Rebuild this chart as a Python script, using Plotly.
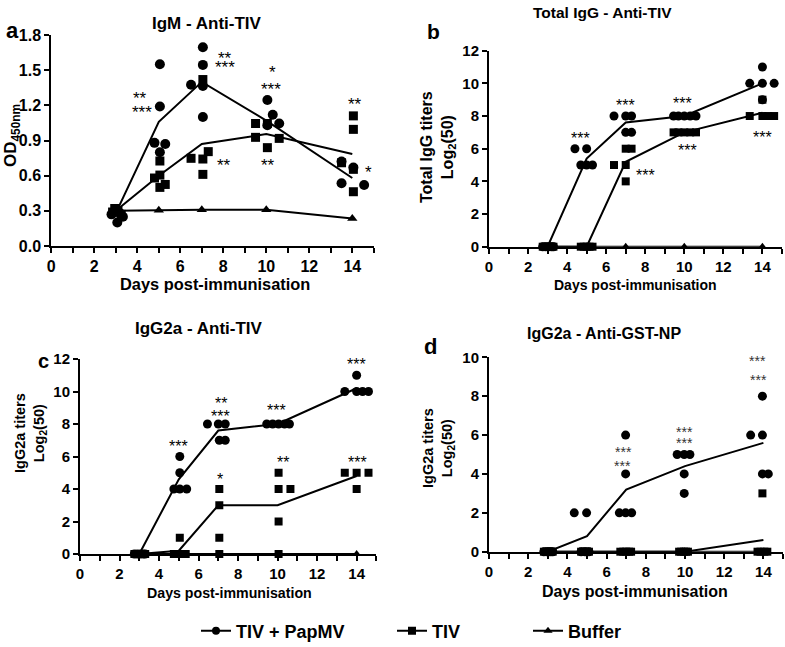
import plotly.graph_objects as go

FONT = "Liberation Sans, Arial, sans-serif"

# ---------------- shared ----------------
DAYS = [3, 5, 7, 10, 14]
X_TICK_VALS = [0, 2, 4, 6, 8, 10, 12, 14]
X_TICK_TEXT = ["0", "2", "4", "6", "8", "10", "12", "14"]
SERIES = ["TIV + PapMV", "TIV", "Buffer"]
X_TITLE = "Days post-immunisation"

# ---------------- panel a : IgM - Anti-TIV ----------------
A_TITLE = "IgM - Anti-TIV"
A_YTITLE = "OD<sub>450nm</sub>"
A_Y_TICKS = [0.0, 0.3, 0.6, 0.9, 1.2, 1.5, 1.8]
A_PAPMV_X = [2.8, 2.95, 3.07, 3.2, 3.33,
             5.05, 5.05, 4.8, 5.3, 5.05,
             7.05, 7.05, 6.5, 7.05, 7.05,
             10.05, 10.3, 10.6, 10.05,
             13.5, 14.05, 13.5, 14.55]
A_PAPMV_Y = [0.27, 0.29, 0.20, 0.28, 0.25,
             1.55, 1.19, 0.88, 0.87, 0.80,
             1.695, 1.545, 1.375, 1.365, 1.10,
             1.245, 1.12, 1.045, 1.03,
             0.72, 0.67, 0.535, 0.52]
A_TIV_X = [2.85, 2.95, 3.1, 3.25,
           5.05, 4.8, 5.05, 5.05, 5.3,
           7.05, 6.5, 7.05, 7.3, 7.05,
           9.5, 10.05, 9.5, 10.6, 10.05,
           14.05, 14.05, 13.5, 14.05, 14.05]
A_TIV_Y = [0.29, 0.32, 0.30, 0.27,
           0.725, 0.58, 0.605, 0.50, 0.525,
           1.42, 0.748, 0.742, 0.805, 0.611,
           1.045, 1.045, 0.927, 0.918, 0.839,
           1.11, 0.995, 0.71, 0.654, 0.463]
A_BUFFER = [0.30, 0.305, 0.31, 0.31, 0.235]
A_MEAN_PAPMV = [0.28, 1.06, 1.40, 1.07, 0.58]
A_MEAN_TIV = [0.30, 0.60, 0.87, 0.955, 0.785]
A_STARS_X = [4.13, 4.2, 8.08, 8.08, 10.3, 10.2, 8.05, 10.1, 14.13, 14.75]
A_STARS_Y = [1.29, 1.175, 1.63, 1.56, 1.51, 1.365, 0.72, 0.72, 1.245, 0.66]
A_STARS_T = ["**", "***", "**", "***", "*", "***", "**", "**", "**", "*"]

# ---------------- panel b : Total IgG - Anti-TIV ----------------
B_TITLE = "Total IgG - Anti-TIV"
B_YTITLE = "Total IgG titers<br>Log<sub>2</sub>(50)"
B_Y_TICKS = [0, 2, 4, 6, 8, 10, 12]
B_PAPMV_X = [2.75, 2.9, 3.05, 3.2, 3.3,
             4.4, 5.0, 4.7, 5.0, 5.3,
             6.4, 7.0, 7.3, 7.0, 7.3,
             9.45, 9.7, 10.0, 10.3, 10.6,
             14.0, 13.35, 14.0, 14.6, 14.0]
B_PAPMV_Y = [0, 0, 0, 0, 0,
             6, 6, 5, 5, 5,
             8, 8, 8, 7, 7,
             8, 8, 8, 8, 8,
             11, 10, 10, 10, 9]
B_TIV_X = [2.75, 2.9, 3.05, 3.2, 3.3,
           4.7, 4.85, 5.0, 5.15, 5.3,
           7.0, 7.3, 6.4, 7.0, 7.0,
           9.45, 9.7, 10.0, 10.3, 10.6,
           14.0, 13.35, 14.0, 14.3, 14.6]
B_TIV_Y = [0, 0, 0, 0, 0,
           0, 0, 0, 0, 0,
           6, 6, 5, 5, 4,
           7, 7, 7, 7, 7,
           9, 8, 8, 8, 8]
B_BUFFER = [0, 0, 0, 0, 0]
B_MEAN_PAPMV = [0, 5.4, 7.6, 8.0, 10.0]
B_MEAN_TIV = [0, 0, 5.2, 7.0, 8.2]
B_STARS_X = [4.66, 6.98, 8.02, 9.91, 10.17, 14.04, 14.01]
B_STARS_Y = [6.84, 8.88, 4.59, 9.02, 6.12, 12.2, 6.94]
B_STARS_T = ["***"] * 7

# ---------------- panel c : IgG2a - Anti-TIV ----------------
C_TITLE = "IgG2a - Anti-TIV"
C_YTITLE = "IgG2a titers<br>Log<sub>2</sub>(50)"
C_Y_TICKS = [0, 2, 4, 6, 8, 10, 12]
C_PAPMV_X = [2.75, 2.9, 3.05, 3.2, 3.3,
             5.05, 5.05, 4.75, 5.05, 5.4,
             6.45, 7.0, 7.35, 7.05, 7.35,
             9.45, 9.75, 10.05, 10.35, 10.6,
             14.0, 13.4, 14.0, 14.3, 14.6]
C_PAPMV_Y = [0, 0, 0, 0, 0,
             6, 5, 4, 4, 4,
             8, 8, 8, 7, 7,
             8, 8, 8, 8, 8,
             11, 10, 10, 10, 10]
C_TIV_X = [2.75, 2.9, 3.05, 3.2, 3.3,
           5.05, 4.75, 4.95, 5.15, 5.35,
           7.05, 7.05, 7.05, 7.05,
           10.05, 10.05, 10.65, 10.05, 10.05,
           13.4, 14.0, 14.6, 14.0]
C_TIV_Y = [0, 0, 0, 0, 0,
           1, 0, 0, 0, 0,
           4, 3, 1, 0,
           5, 4, 4, 2, 0,
           5, 5, 5, 4]
C_BUFFER = [0, 0, 0, 0, 0]
C_MEAN_PAPMV = [0, 4.6, 7.6, 8.0, 10.2]
C_MEAN_TIV = [0, 0.2, 3.0, 3.0, 4.8]
C_STARS_X = [4.98, 7.12, 7.09, 7.09, 9.95, 10.29, 14.04, 14.0]
C_STARS_Y = [6.87, 9.48, 8.72, 4.86, 9.1, 5.85, 5.89, 11.88]
C_STARS_T = ["***", "**", "***", "*", "***", "**", "***", "***"]

# ---------------- panel d : IgG2a - Anti-GST-NP ----------------
D_TITLE = "IgG2a - Anti-GST-NP"
D_YTITLE = "IgG2a titers<br>Log<sub>2</sub>(50)"
D_Y_TICKS = [0, 2, 4, 6, 8, 10]
D_PAPMV_X = [2.8, 2.95, 3.05, 3.15, 3.25,
             4.35, 4.98, 4.7, 4.9, 5.1,
             6.97, 6.97, 6.65, 6.97, 7.28,
             9.6, 9.96, 10.25, 9.96, 9.96,
             13.95, 13.35, 13.95, 13.95, 14.25]
D_PAPMV_Y = [0, 0, 0, 0, 0,
             2, 2, 0, 0, 0,
             6, 4, 2, 2, 2,
             5, 5, 5, 4, 3,
             8, 6, 6, 4, 4]
D_TIV_X = [2.8, 2.95, 3.05, 3.15, 3.25,
           4.7, 4.8, 4.9, 5.0, 5.1,
           6.7, 6.85, 7.0, 7.15, 7.25,
           9.7, 9.8, 9.95, 10.05, 10.15,
           13.95, 13.7, 13.85, 14.05, 14.2]
D_TIV_Y = [0, 0, 0, 0, 0,
           0, 0, 0, 0, 0,
           0, 0, 0, 0, 0,
           0, 0, 0, 0, 0,
           3, 0, 0, 0, 0]
D_BUFFER = [0, 0, 0, 0, 0]
D_MEAN_PAPMV = [0, 0.8, 3.2, 4.4, 5.6]
D_MEAN_TIV = [0, 0, 0, 0, 0.6]
D_STARS_X = [6.86, 6.8, 9.96, 9.96, 13.7, 13.74]
D_STARS_Y = [5.32, 4.6, 6.35, 5.78, 10.0, 9.04]
D_STARS_T = ["***"] * 6

# ---------------- layout geometry (pixels in the 785x647 page) ----------------
W, H = 785, 647


def px(x):
    return x / W


def py(y):
    return 1 - y / H


panels = [
    dict(key="a", ax="", title=A_TITLE, ytitle=A_YTITLE, yticks=A_Y_TICKS, yfmt=".1f",
         papmv=(A_PAPMV_X, A_PAPMV_Y), tiv=(A_TIV_X, A_TIV_Y), buf=A_BUFFER,
         mp=A_MEAN_PAPMV, mt=A_MEAN_TIV, stars=(A_STARS_X, A_STARS_Y, A_STARS_T),
         xdom=[51.3, 373.8], ydom=[246, 35], yrange=[0, 1.8],
         title_pos=(207, 23, 17), letter_pos=(12, 30, 22), xt_pos=(215, 284, 16.4),
         yt_pos=(12, 136, 17), tick_size=16, star_size=17, star_color="black",
         msize=9),
    dict(key="b", ax="2", title=B_TITLE, ytitle=B_YTITLE, yticks=B_Y_TICKS, yfmt="d",
         papmv=(B_PAPMV_X, B_PAPMV_Y), tiv=(B_TIV_X, B_TIV_Y), buf=B_BUFFER,
         mp=B_MEAN_PAPMV, mt=B_MEAN_TIV, stars=(B_STARS_X, B_STARS_Y, B_STARS_T),
         xdom=[489, 781.95], ydom=[246.7, 50.7], yrange=[0, 12],
         title_pos=(602, 12, 15.5), letter_pos=(433, 32, 21), xt_pos=(635, 285, 14),
         yt_pos=(438, 147, 16), tick_size=15, star_size=16, star_color="black",
         msize=8),
    dict(key="c", ax="3", title=C_TITLE, ytitle=C_YTITLE, yticks=C_Y_TICKS, yfmt="d",
         papmv=(C_PAPMV_X, C_PAPMV_Y), tiv=(C_TIV_X, C_TIV_Y), buf=C_BUFFER,
         mp=C_MEAN_PAPMV, mt=C_MEAN_TIV, stars=(C_STARS_X, C_STARS_Y, C_STARS_T),
         xdom=[80, 376.4], ydom=[554, 359], yrange=[0, 12],
         title_pos=(199, 328, 17), letter_pos=(43, 361, 20), xt_pos=(229, 593, 14.2),
         yt_pos=(30, 433, 14.5), tick_size=15, star_size=16, star_color="black",
         msize=8),
    dict(key="d", ax="4", title=D_TITLE, ytitle=D_YTITLE, yticks=D_Y_TICKS, yfmt="d",
         papmv=(D_PAPMV_X, D_PAPMV_Y), tiv=(D_TIV_X, D_TIV_Y), buf=D_BUFFER,
         mp=D_MEAN_PAPMV, mt=D_MEAN_TIV, stars=(D_STARS_X, D_STARS_Y, D_STARS_T),
         xdom=[489, 783], ydom=[551.7, 357.3], yrange=[0, 10],
         title_pos=(604, 333, 16), letter_pos=(430, 347, 22), xt_pos=(635, 591, 16),
         yt_pos=(438, 448, 14.5), tick_size=15, star_size=14, star_color="#333333",
         msize=8),
]

fig = go.Figure()
annotations = []
layout_axes = {}

for p in panels:
    xa = "x" + p["ax"]
    ya = "y" + p["ax"]
    common = dict(xaxis=xa, yaxis=ya, cliponaxis=False, showlegend=False, hoverinfo="skip")
    # mean lines
    fig.add_trace(go.Scatter(x=DAYS, y=p["mp"], mode="lines",
                             line=dict(color="black", width=2), **common))
    fig.add_trace(go.Scatter(x=DAYS, y=p["mt"], mode="lines",
                             line=dict(color="black", width=2), **common))
    fig.add_trace(go.Scatter(x=DAYS, y=p["buf"], mode="lines+markers",
                             line=dict(color="black", width=2),
                             marker=dict(symbol="triangle-up", size=p["msize"], color="black"),
                             **common))
    # individual animals
    fig.add_trace(go.Scatter(x=p["papmv"][0], y=p["papmv"][1], mode="markers",
                             marker=dict(symbol="circle", size=p["msize"] + 1, color="black",
                                         line=dict(width=0)),
                             **common))
    fig.add_trace(go.Scatter(x=p["tiv"][0], y=p["tiv"][1], mode="markers",
                             marker=dict(symbol="square", size=p["msize"], color="black",
                                         line=dict(width=0)),
                             **common))

    axis_line = dict(showline=True, linecolor="black", linewidth=2, ticks="outside",
                     ticklen=5, tickwidth=1.5, tickcolor="black", showgrid=False,
                     zeroline=False, fixedrange=True, automargin=False)
    xname = "xaxis" + p["ax"]
    yname = "yaxis" + p["ax"]
    layout_axes[xname] = dict(
        domain=[px(p["xdom"][0]), px(p["xdom"][1])], range=[0, 15], anchor=ya,
        tickmode="array", tickvals=X_TICK_VALS, ticktext=X_TICK_TEXT,
        minor=dict(tickmode="linear", tick0=0, dtick=1, ticks="outside", ticklen=5,
                   tickwidth=1.5, tickcolor="black", showgrid=False),
        tickfont=dict(family=FONT, size=p["tick_size"], color="black", weight="bold"),
        **axis_line)
    layout_axes[yname] = dict(
        domain=[py(p["ydom"][0]), py(p["ydom"][1])], range=p["yrange"], anchor=xa,
        tickmode="array", tickvals=p["yticks"], tickformat=p["yfmt"],
        tickfont=dict(family=FONT, size=p["tick_size"], color="black", weight="bold"),
        **axis_line)

    tx, ty, ts = p["title_pos"]
    annotations.append(dict(text="<b>%s</b>" % p["title"], x=px(tx), y=py(ty), xref="paper",
                            yref="paper", showarrow=False, xanchor="center", yanchor="middle",
                            font=dict(family=FONT, size=ts, color="black")))
    lx, ly, ls = p["letter_pos"]
    annotations.append(dict(text="<b>%s</b>" % p["key"], x=px(lx), y=py(ly), xref="paper",
                            yref="paper", showarrow=False, xanchor="center", yanchor="middle",
                            font=dict(family=FONT, size=ls, color="black")))
    xx, xy, xs = p["xt_pos"]
    annotations.append(dict(text="<b>%s</b>" % X_TITLE, x=px(xx), y=py(xy), xref="paper",
                            yref="paper", showarrow=False, xanchor="center", yanchor="middle",
                            font=dict(family=FONT, size=xs, color="black")))
    yx, yy, ys = p["yt_pos"]
    annotations.append(dict(text="<b>%s</b>" % p["ytitle"], x=px(yx), y=py(yy), xref="paper",
                            yref="paper", showarrow=False, xanchor="center", yanchor="middle",
                            textangle=-90,
                            font=dict(family=FONT, size=ys, color="black")))
    for sx, sy, st in zip(*p["stars"]):
        annotations.append(dict(text=st, x=sx, y=sy, xref=xa, yref=ya, showarrow=False,
                                xanchor="center", yanchor="middle", yshift=-4,
                                font=dict(family=FONT, size=p["star_size"], color=p["star_color"])))

# legend entries (one legend per series, placed along the bottom)
legend_syms = ["circle", "square", "triangle-up"]
legend_names = ["legend", "legend2", "legend3"]
legend_x = [196, 392, 528]
for name, sym, lg in zip(SERIES, legend_syms, legend_names):
    fig.add_trace(go.Scatter(x=[None], y=[None], mode="lines+markers", name=name,
                             line=dict(color="black", width=2),
                             marker=dict(symbol=sym, size=8, color="black"),
                             legend=lg, showlegend=True, xaxis="x", yaxis="y"))

legend_common = dict(orientation="h", yanchor="middle", xanchor="left",
                     bgcolor="rgba(0,0,0,0)", borderwidth=0,
                     font=dict(family=FONT, size=18, color="black", weight="bold"))
for lg, lx in zip(legend_names, legend_x):
    layout_axes[lg] = dict(x=px(lx), y=py(631), **legend_common)

fig.update_layout(
    width=W, height=H, margin=dict(l=0, r=0, t=0, b=0, pad=0, autoexpand=False),
    paper_bgcolor="white", plot_bgcolor="white",
    annotations=annotations,
    **layout_axes,
)

fig.write_html("out.html", config={"displayModeBar": False},
               post_script="document.body.style.margin='0px';")
